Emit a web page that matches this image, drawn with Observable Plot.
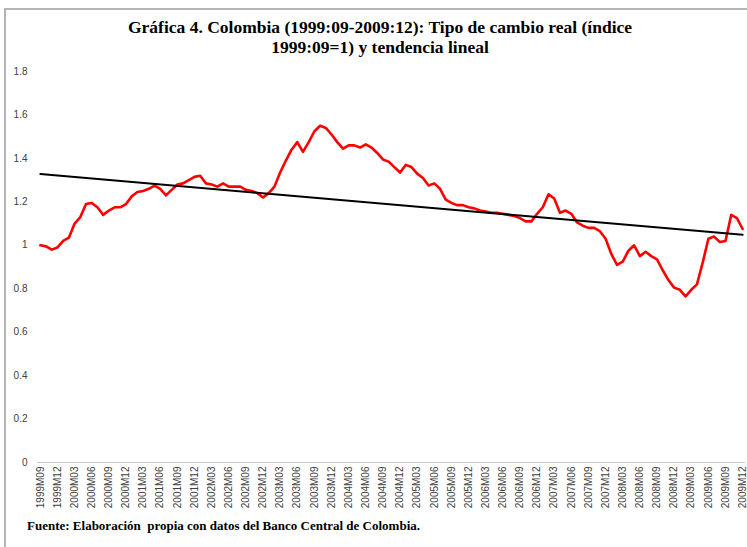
<!DOCTYPE html>
<html>
<head>
<meta charset="utf-8">
<script src="https://cdn.jsdelivr.net/npm/d3@7"></script>
<script src="https://cdn.jsdelivr.net/npm/@observablehq/plot@0.6"></script>
<style>
  html, body { margin: 0; padding: 0; background: #fff; }
  #wrap { position: relative; width: 747px; height: 547px; overflow: hidden; }
  #frame { position: absolute; left: 4px; top: 8px; width: 760px; height: 560px;
           border-left: 2px solid #b4b4b4; border-top: 2px solid #b4b4b4; }
  #title { position: absolute; left: 0; width: 760px; top: 17px; text-align: center;
           font-family: "Liberation Serif", "Times New Roman", serif; font-weight: bold;
           font-size: 17.5px; line-height: 20px; color: #000; }
  #caption { position: absolute; left: 27px; top: 518px;
           font-family: "Liberation Serif", "Times New Roman", serif; font-weight: bold;
           font-size: 13px; color: #000; white-space: pre; }
  #chart { position: absolute; left: 0; top: 0; }
</style>
</head>
<body>
<div id="wrap">
  <div id="frame"></div>
  <div id="chart"></div>
  <div id="title">Gráfica 4. Colombia (1999:09-2009:12): Tipo de cambio real (índice<br>1999:09=1) y tendencia lineal</div>
  <div id="caption">Fuente: Elaboración  propia con datos del Banco Central de Colombia.</div>
</div>
<script>
// Monthly real exchange rate index, 1999M09 .. 2009M12 (124 months)
const rerValues = [
  1.00, 0.995, 0.98, 0.99, 1.02, 1.035, 1.10, 1.13, 1.19, 1.195, 1.175, 1.14, 1.16, 1.175, 1.175, 1.19, 1.225, 1.245, 1.25, 1.26, 1.275, 1.26, 1.23, 1.255, 1.28,
  1.285, 1.30, 1.315, 1.32, 1.285, 1.28, 1.27, 1.285, 1.27, 1.27, 1.27, 1.255, 1.25, 1.24, 1.22, 1.24, 1.27, 1.335, 1.39, 1.44, 1.475, 1.43, 1.475, 1.525, 1.55,
  1.54, 1.51, 1.475, 1.445, 1.46, 1.46, 1.45, 1.465, 1.45, 1.425, 1.395, 1.385, 1.36, 1.335, 1.37, 1.36, 1.33, 1.31, 1.275, 1.285, 1.26, 1.21, 1.195, 1.185,
  1.185, 1.175, 1.17, 1.16, 1.155, 1.15, 1.15, 1.145, 1.14, 1.135, 1.125, 1.11, 1.11, 1.145, 1.175, 1.235, 1.215, 1.15, 1.16, 1.145, 1.105, 1.09, 1.08, 1.08, 1.065,
  1.03, 0.96, 0.91, 0.925, 0.975, 1.00, 0.95, 0.97, 0.95, 0.935, 0.885, 0.84, 0.805, 0.795, 0.765, 0.795, 0.82, 0.92, 1.03, 1.04, 1.015, 1.02, 1.14, 1.125, 1.075
];
const tickLabels = [
  "1999M09","1999M12","2000M03","2000M06","2000M09","2000M12","2001M03","2001M06","2001M09","2001M12",
  "2002M03","2002M06","2002M09","2002M12","2003M03","2003M06","2003M09","2003M12","2004M03","2004M06",
  "2004M09","2004M12","2005M03","2005M06","2005M09","2005M12","2006M03","2006M06","2006M09","2006M12",
  "2007M03","2007M06","2007M09","2007M12","2008M03","2008M06","2008M09","2008M12","2009M03","2009M06",
  "2009M09","2009M12"
];
const yTicks = [0, 0.2, 0.4, 0.6, 0.8, 1, 1.2, 1.4, 1.6, 1.8];

const data = rerValues.map((v, i) => ({ i, v }));
const tickIdx = tickLabels.map((_, k) => k * 3);

const plot = Plot.plot({
  width: 747,
  height: 547,
  marginLeft: 37,
  marginRight: 2,
  marginTop: 71,
  marginBottom: 85,
  style: { fontFamily: "'Liberation Sans', Arial, sans-serif", fontSize: "10px", color: "#404040", background: "transparent" },
  x: { type: "linear", domain: [-0.5, 123.5], axis: null },
  y: { domain: [0, 1.8], axis: null },
  marks: [
    Plot.ruleY([0], { stroke: "#c8c8c8", strokeWidth: 1 }),
    Plot.axisY(yTicks, { label: null, tickSize: 0, tickPadding: 10, tickFormat: d => String(+d.toFixed(1)), fill: "#404040", fontSize: 10 }),
    Plot.axisX(tickIdx, { label: null, tickSize: 0, tickPadding: 4, tickRotate: -90, tickFormat: (d) => tickLabels[Math.round(d / 3)], fill: "#404040", fontSize: 10 }),
    Plot.lineY(data, { x: "i", y: "v", stroke: "#ff0000", strokeWidth: 2.6, strokeLinejoin: "round" }),
    Plot.linearRegressionY(data, { x: "i", y: "v", stroke: "#000", strokeWidth: 2, ci: 0 })
  ]
});
document.getElementById("chart").appendChild(plot);
</script>
</body>
</html>
